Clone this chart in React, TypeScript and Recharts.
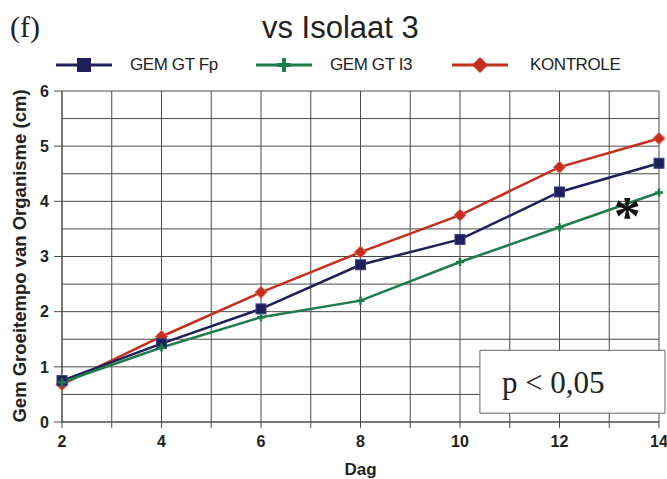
import React from 'react';
import {
  LineChart,
  Line,
  XAxis,
  YAxis,
  CartesianGrid,
  ReferenceArea,
  ReferenceDot,
} from 'recharts';

// Days (x) and mean growth per series (cm)
const days = [2, 4, 6, 8, 10, 12, 14];
const gemFp = [0.75, 1.42, 2.05, 2.85, 3.31, 4.17, 4.69];
const gemI3 = [0.72, 1.35, 1.9, 2.2, 2.9, 3.53, 4.16];
const kontrole = [0.68, 1.55, 2.35, 3.08, 3.75, 4.62, 5.14];

const xTicks = [2, 3, 4, 5, 6, 7, 8, 9, 10, 11, 12, 13, 14];
const yTicks = [0, 0.5, 1, 1.5, 2, 2.5, 3, 3.5, 4, 4.5, 5, 5.5, 6];

const data = days.map((d, i) => ({
  dag: d,
  fp: gemFp[i],
  i3: gemI3[i],
  kontrole: kontrole[i],
}));

const COLORS = {
  fp: '#1e205a',
  i3: '#1f7b4c',
  kontrole: '#c4301d',
  grid: '#4a4a4a',
  text: '#222222',
};

const SANS = '"Liberation Sans", Arial, Helvetica, sans-serif';
const SERIF = '"Liberation Serif", "Times New Roman", serif';

function SquareDot(props: any) {
  const { cx, cy } = props;
  if (cx == null || cy == null) return null;
  return (
    <rect x={cx - 5} y={cy - 5} width={10} height={10} fill={COLORS.fp} stroke="#3b3f80" strokeWidth={1} />
  );
}

function PlusDot(props: any) {
  const { cx, cy } = props;
  if (cx == null || cy == null) return null;
  return (
    <path d={`M${cx - 4},${cy}H${cx + 4}M${cx},${cy - 4}V${cy + 4}`} stroke={COLORS.i3} strokeWidth={2.5} />
  );
}

function DiamondDot(props: any) {
  const { cx, cy } = props;
  if (cx == null || cy == null) return null;
  return (
    <path d={`M${cx},${cy - 6}L${cx + 6},${cy}L${cx},${cy + 6}L${cx - 6},${cy}Z`} fill={COLORS.kontrole} stroke="#e06a55" strokeWidth={1} />
  );
}

function YTick(props: any) {
  const { x, y, payload } = props;
  const v = payload.value;
  if (v % 1 !== 0) return null;
  return (
    <g>
      <line x1={x + 2} x2={x + 10} y1={y} y2={y} stroke={COLORS.grid} strokeWidth={1} />
      <text x={x - 3} y={y} dy="0.36em" textAnchor="end" fontFamily={SANS} fontWeight="bold" fontSize={16} fill={COLORS.text}>
        {v}
      </text>
    </g>
  );
}

function XTick(props: any) {
  const { x, y, payload } = props;
  const v = payload.value;
  return (
    <g>
      <line x1={x} x2={x} y1={422} y2={428} stroke={COLORS.grid} strokeWidth={1} />
      {v % 2 === 0 && (
        <text x={x} y={y} dy="0.71em" textAnchor="middle" fontFamily={SANS} fontWeight="bold" fontSize={16} fill={COLORS.text}>
          {v}
        </text>
      )}
    </g>
  );
}

function Asterisk(props: any) {
  const { cx, cy } = props;
  return (
    <text x={cx} y={cy} dy="0.62em" textAnchor="middle" fontFamily={SERIF} fontWeight="bold" fontSize={54} fill="#111">
      *
    </text>
  );
}

const legendItems = [
  { label: 'GEM GT Fp', color: COLORS.fp, left: 44, textLeft: 130, marker: 'square' },
  { label: 'GEM GT I3', color: COLORS.i3, left: 244, textLeft: 330, marker: 'plus' },
  { label: 'KONTROLE', color: COLORS.kontrole, left: 440, textLeft: 530, marker: 'diamond' },
];

function LegendIcon({ color, marker }: { color: string; marker: string }) {
  return (
    <svg width={68} height={20}>
      <line x1={12} x2={68} y1={10} y2={10} stroke={color} strokeWidth={3} />
      {marker === 'square' && <rect x={33} y={3} width={14} height={14} fill={color} />}
      {marker === 'plus' && (
        <path d="M33,10H47M40,3V17" stroke={color} strokeWidth={4} />
      )}
      {marker === 'diamond' && <path d="M40,2L48,10L40,18L32,10Z" fill={color} />}
    </svg>
  );
}

export default function App() {
  return (
    <div style={{ position: 'absolute', left: 0, top: 0, width: 667, height: 479, background: '#fff', overflow: 'hidden' }}>
      <div style={{ position: 'absolute', left: 10, top: 10, fontFamily: SERIF, fontSize: 30, color: '#222' }}>(f)</div>
      <div style={{ position: 'absolute', left: 262, top: 10, fontFamily: SANS, fontSize: 31, color: '#222', whiteSpace: 'nowrap' }}>
        vs Isolaat 3
      </div>
      {legendItems.map((it) => (
        <React.Fragment key={it.label}>
          <div style={{ position: 'absolute', left: it.left, top: 55 }}>
            <LegendIcon color={it.color} marker={it.marker} />
          </div>
          <div
            style={{
              position: 'absolute',
              left: it.textLeft,
              top: 55,
              fontFamily: SANS,
              fontSize: 17,
              letterSpacing: -0.4,
              color: '#222',
              whiteSpace: 'nowrap',
            }}
          >
            {it.label}
          </div>
        </React.Fragment>
      ))}
      <div
        style={{
          position: 'absolute',
          left: 20,
          top: 256,
          transform: 'translate(-50%, -50%) rotate(-90deg)',
          fontFamily: SANS,
          fontWeight: 'bold',
          fontSize: 18.5,
          color: '#222',
          whiteSpace: 'nowrap',
        }}
      >
        Gem Groeitempo van Organisme (cm)
      </div>
      <div style={{ position: 'absolute', left: 0, top: 0 }}>
        <LineChart width={667} height={479} data={data} margin={{ top: 91, right: 8, bottom: 0, left: 0 }}>
          <CartesianGrid stroke={COLORS.grid} strokeWidth={1} />
          <XAxis
            dataKey="dag"
            type="number"
            domain={[2, 14]}
            ticks={xTicks}
            interval={0}
            height={57}
            tickSize={6}
            tickMargin={8}
            tickLine={false}
            axisLine={{ stroke: COLORS.grid }}
            tick={<XTick />}
            label={{ value: 'Dag', position: 'insideBottom', offset: 4, fontFamily: SANS, fontWeight: 'bold', fontSize: 17, fill: COLORS.text }}
          />
          <YAxis
            type="number"
            domain={[0, 6]}
            ticks={yTicks}
            interval={0}
            width={62}
            tickSize={8}
            tickMargin={2}
            tickLine={false}
            axisLine={{ stroke: COLORS.grid }}
            tick={<YTick />}
          />
          <Line type="linear" dataKey="kontrole" stroke={COLORS.kontrole} strokeWidth={2.5} dot={<DiamondDot />} isAnimationActive={false} />
          <Line type="linear" dataKey="fp" stroke={COLORS.fp} strokeWidth={2.5} dot={<SquareDot />} isAnimationActive={false} />
          <Line type="linear" dataKey="i3" stroke={COLORS.i3} strokeWidth={2.5} dot={<PlusDot />} isAnimationActive={false} />
          <ReferenceArea
            x1={10.4}
            x2={14.12}
            y1={0.16}
            y2={1.3}
            ifOverflow="visible"
            fill="#ffffff"
            fillOpacity={1}
            stroke="#666"
            strokeWidth={1}
            label={{ value: 'p < 0,05', position: 'insideLeft', offset: 22, fontFamily: SERIF, fontSize: 31, fill: '#222' }}
          />
          <ReferenceDot x={13.36} y={4.02} r={0} ifOverflow="visible" shape={<Asterisk />} />
        </LineChart>
      </div>
    </div>
  );
}
